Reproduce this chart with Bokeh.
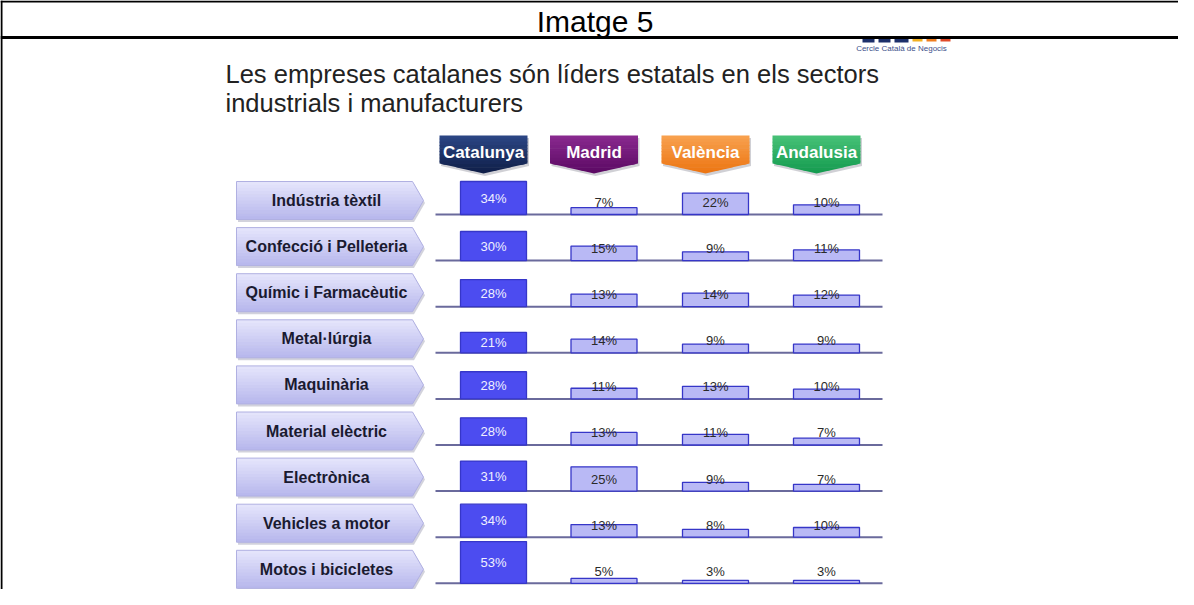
from bokeh.plotting import figure
from bokeh.models import Range1d, ColumnDataSource
from bokeh.core.properties import value
from bokeh.embed import file_html
from bokeh.resources import INLINE

# ---------------- data ----------------
header_text = "Imatge 5"
title_lines = ["Les empreses catalanes són líders estatals en els sectors",
               "industrials i manufacturers"]
logo_text = "Cercle Català de Negocis"
regions = ["Catalunya", "Madrid", "València", "Andalusia"]
sectors = ["Indústria tèxtil", "Confecció i Pelleteria", "Químic i Farmacèutic",
           "Metal·lúrgia", "Maquinària", "Material elèctric", "Electrònica",
           "Vehicles a motor", "Motos i bicicletes"]
catalunya = [34, 30, 28, 21, 28, 28, 31, 34, 53]
madrid = [7, 15, 13, 14, 11, 13, 25, 13, 5]
valencia = [22, 9, 14, 9, 13, 11, 9, 8, 3]
andalusia = [10, 11, 12, 9, 10, 7, 7, 10, 3]
series = [catalunya, madrid, valencia, andalusia]

# ---------------- styles / layout ----------------
FONT = value("Liberation Sans")
badge_top = ["#2c4786", "#8a2a90", "#f8a250", "#48c278"]
badge_bot = ["#0e1d46", "#5a0862", "#ec7410", "#139a4e"]
bar_fill = ["#4c4cf0", "#b9b9f5", "#b9b9f5", "#b9b9f5"]
bar_line = "#3636c8"
W, H = 1178, 589
PX_PER_PCT = 0.97      # vertical scale of every row panel
PANEL_MAX = 43         # each row panel's visible maximum (%)
ROW0, ROW_STEP = 214.0, 46.1
col_x = [493, 603.5, 715, 826]
BAR_W = 66


def lerp_hex(c0, c1, t):
    a = [int(c0[i:i + 2], 16) for i in (1, 3, 5)]
    b = [int(c1[i:i + 2], 16) for i in (1, 3, 5)]
    return "#%02x%02x%02x" % tuple(round(a[k] + (b[k] - a[k]) * t) for k in range(3))


def clip_half(pts, yb, keep_above):
    out = []
    n = len(pts)
    for k in range(n):
        p0, p1 = pts[k], pts[(k + 1) % n]
        in0 = (p0[1] >= yb) if keep_above else (p0[1] <= yb)
        in1 = (p1[1] >= yb) if keep_above else (p1[1] <= yb)
        if in0:
            out.append(p0)
        if in0 != in1:
            t = (yb - p0[1]) / (p1[1] - p0[1])
            out.append((p0[0] + (p1[0] - p0[0]) * t, yb))
    return out


def gradient(p, xs, ys, c_top, c_bot, nb=10):
    pts = list(zip(xs, ys))
    y_top, y_bot = min(ys), max(ys)
    bxs, bys, cols = [], [], []
    for k in range(nb):
        y0 = y_top + (y_bot - y_top) * k / nb
        y1 = y_top + (y_bot - y_top) * (k + 1) / nb + 0.7
        poly = clip_half(clip_half(pts, y0, True), min(y1, y_bot), False)
        if len(poly) >= 3:
            bxs.append([q[0] for q in poly])
            bys.append([q[1] for q in poly])
            cols.append(lerp_hex(c_top, c_bot, (k + 0.5) / nb))
    p.patches(xs=bxs, ys=bys, fill_color=cols, line_color=None)


p = figure(width=W, height=H, x_range=Range1d(0, W), y_range=Range1d(H, 0),
           output_backend="svg", toolbar_location=None, min_border=0,
           x_axis_location=None, y_axis_location=None)
p.xgrid.visible = False
p.ygrid.visible = False
p.outline_line_color = None
p.background_fill_color = "white"
p.border_fill_color = "white"

# frame of the document table
p.line(x=[0, W], y=[1, 1], line_color="black", line_width=2)
p.line(x=[0, W], y=[37, 37], line_color="black", line_width=2.8)
p.line(x=[1, 1], y=[0, H], line_color="black", line_width=2)
p.text(x=[594.5], y=[21], text=[header_text], text_font=FONT,
       text_font_size="30px", text_align="center", text_baseline="middle",
       text_color="black")

# logo fragment
p.quad(left=[862, 878, 894], right=[874, 890, 908], top=[38.5, 38.5, 38.5],
       bottom=[42, 42, 42], fill_color="#1c2f6a", line_color=None)
p.quad(left=[912, 926, 940], right=[922, 936, 950], top=[38.5, 38.5, 38.5],
       bottom=[41, 41, 41], fill_color=["#f2b021", "#ef7d1f", "#e04a2a"],
       line_color=None)
p.text(x=[901], y=[48], text=[logo_text], text_font=FONT, text_font_size="8px",
       text_align="center", text_baseline="middle", text_color="#3d4f8a")

# title
for k, line in enumerate(title_lines):
    p.text(x=[225], y=[73.7 + 28.3 * k], text=[line], text_font=FONT,
           text_font_size="25.5px", text_align="left", text_baseline="alphabetic",
           text_color="#222222")

# region badges
badge_cx = [c - 10 for c in col_x]
for j, cx in enumerate(badge_cx):
    xs = [cx - 44, cx + 44, cx + 44, cx, cx - 44]
    ys = [135, 135, 163, 173, 163]
    p.patch([x + 1.5 for x in xs], [y + 2.5 for y in ys], fill_color="#777788",
            fill_alpha=0.35, line_color=None)
    gradient(p, xs, ys, badge_top[j], badge_bot[j], nb=12)
p.text(x=badge_cx, y=[152] * 4, text=regions, text_font=FONT,
       text_font_size="17px", text_font_style="bold", text_align="center",
       text_baseline="middle", text_color="white")

# rows
for i, sector in enumerate(sectors):
    b = ROW0 + ROW_STEP * i
    xs = [236, 412, 423, 412, 236]
    ys = [b - 33, b - 33, b - 14, b + 5, b + 5]
    p.patch([x + 1.5 for x in xs], [y + 2.5 for y in ys], fill_color="#8e8ea8",
            fill_alpha=0.4, line_color=None)
    gradient(p, xs, ys, "#e6e6fc", "#b6b6ec", nb=12)
    p.patch(xs, ys, fill_color=None, line_color="#b0b0e2", line_width=1)
    p.text(x=[326], y=[b - 14], text=[sector], text_font=FONT, text_font_size="16px",
           text_font_style="bold", text_align="center", text_baseline="middle",
           text_color="#1a1a30")
    p.segment(x0=[435], x1=[882], y0=[b], y1=[b], line_color="#6a6a9c", line_width=2)

    # per-row panel scale: 0 % at the row baseline
    rname = f"row{i}"
    p.extra_y_ranges[rname] = Range1d(start=(b - H) / PX_PER_PCT, end=b / PX_PER_PCT)
    vals = [s[i] for s in series]
    shown = [min(v, PANEL_MAX) for v in vals]
    src = ColumnDataSource(dict(
        left=[c - BAR_W / 2 for c in col_x], right=[c + BAR_W / 2 for c in col_x],
        top=shown, bottom=[0] * 4, fill=bar_fill, x=col_x,
        label=[f"{v}%" for v in vals],
        ly=[shown[0] / 2] + [12.4] * 3,
        lc=["#f0f0ff", "#2a2a2a", "#2a2a2a", "#2a2a2a"]))
    p.quad(left="left", right="right", top="top", bottom="bottom", source=src,
           fill_color="fill", line_color=bar_line, line_width=1.3, y_range_name=rname)
    p.text(x="x", y="ly", text="label", source=src, text_font=FONT,
           text_font_size="13px", text_align="center", text_baseline="middle",
           text_color="lc", y_range_name=rname)

open("out.html", "w").write(file_html(p, INLINE))
